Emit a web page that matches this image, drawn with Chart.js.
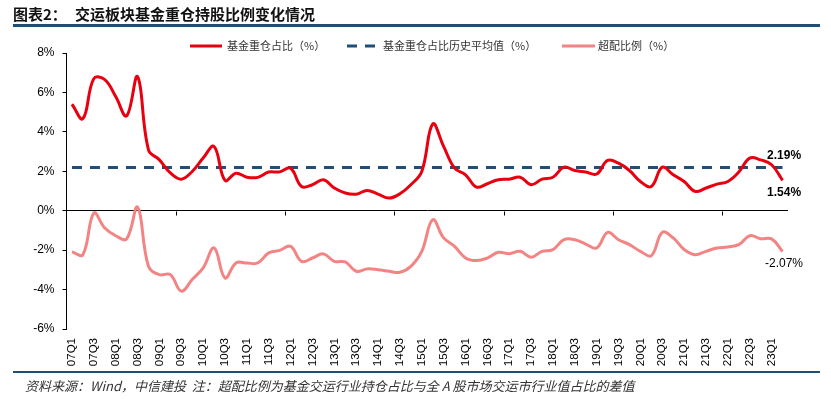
<!DOCTYPE html>
<html><head><meta charset="utf-8">
<script src="https://cdn.jsdelivr.net/npm/chart.js@4"></script>
<style>
html,body{margin:0;padding:0;background:#fff;width:831px;height:399px;overflow:hidden;position:relative;}
#c{position:absolute;left:0;top:0;}
.t{position:absolute;font-family:"Noto Sans CJK SC";font-weight:bold;font-size:15px;line-height:15px;color:#111;top:6px;white-space:nowrap;}
.rule{position:absolute;left:13px;width:807px;background:#1F4E79;}
.foot{position:absolute;left:25px;top:378px;font-family:"Noto Sans CJK SC";font-style:italic;font-size:13px;line-height:16px;color:#333;white-space:nowrap;}
</style></head><body>
<canvas id="c" width="831" height="399"></canvas>
<div class="t" style="left:13px">图表2：</div>
<div class="t" style="left:75px">交运板块基金重仓持股比例变化情况</div>
<div class="rule" style="top:24px;height:3px"></div>
<div class="rule" style="top:371px;height:2px"></div>
<div class="foot">资料来源：Wind，中信建投&nbsp;&nbsp;注：超配比例为基金交运行业持仓占比与全 A 股市场交运市行业值占比的差值</div>
<script>
const categories = [
 '07Q1','07Q2','07Q3','07Q4','08Q1','08Q2','08Q3','08Q4',
 '09Q1','09Q2','09Q3','09Q4','10Q1','10Q2','10Q3','10Q4',
 '11Q1','11Q2','11Q3','11Q4','12Q1','12Q2','12Q3','12Q4',
 '13Q1','13Q2','13Q3','13Q4','14Q1','14Q2','14Q3','14Q4',
 '15Q1','15Q2','15Q3','15Q4','16Q1','16Q2','16Q3','16Q4',
 '17Q1','17Q2','17Q3','17Q4','18Q1','18Q2','18Q3','18Q4',
 '19Q1','19Q2','19Q3','19Q4','20Q1','20Q2','20Q3','20Q4',
 '21Q1','21Q2','21Q3','21Q4','22Q1','22Q2','22Q3','22Q4',
 '23Q1','23Q2'
];
const heavyShare = [
 5.40,4.67,6.70,6.65,5.79,4.81,6.80,3.09,
 2.58,1.92,1.60,1.99,2.67,3.26,1.54,1.90,
 1.70,1.69,1.96,1.97,2.16,1.23,1.32,1.57,
 1.15,0.90,0.84,1.03,0.84,0.64,0.86,1.32,
 1.99,4.40,3.26,2.16,1.82,1.20,1.37,1.57,
 1.60,1.70,1.32,1.60,1.70,2.21,2.04,1.96,
 1.86,2.55,2.41,2.04,1.48,1.23,2.21,1.82,
 1.48,0.98,1.15,1.35,1.48,1.96,2.67,2.58,
 2.33,1.54
];
const historicalAverage = 2.19;
const overweight = [
 -2.09,-2.23,-0.12,-0.88,-1.27,-1.43,0.18,-2.82,
 -3.24,-3.24,-4.08,-3.49,-2.90,-1.89,-3.41,-2.65,
 -2.65,-2.65,-2.14,-2.01,-1.81,-2.57,-2.40,-2.19,
 -2.57,-2.60,-3.07,-2.95,-2.99,-3.07,-3.12,-2.82,
 -2.06,-0.46,-1.38,-1.81,-2.40,-2.53,-2.40,-2.11,
 -2.18,-2.06,-2.36,-2.06,-1.97,-1.47,-1.47,-1.69,
 -1.89,-1.10,-1.47,-1.72,-2.06,-2.28,-1.10,-1.38,
 -1.97,-2.23,-2.06,-1.89,-1.84,-1.72,-1.27,-1.42,
 -1.43,-2.07
];
const yTicks = [-6,-4,-2,0,2,4,6,8];
const seriesNames = ['基金重仓占比（%）','基金重仓占比历史平均值（%）','超配比例（%）'];
const colors = {heavy:'#E8000F', avg:'#1F4E79', over:'#F28484'};

const overlay = {
  id:'overlay',
  afterDatasetsDraw(chart){
    const {ctx, scales:{x,y}} = chart;
    ctx.save();
    ctx.strokeStyle='#000'; ctx.lineWidth=1;
    const y0 = Math.round(y.getPixelForValue(0))+0.5;
    for(let i=10;i<categories.length;i+=10){
      const px = Math.round((x.getPixelForValue(i-1)+x.getPixelForValue(i))/2)+0.5;
      ctx.beginPath(); ctx.moveTo(px,y0); ctx.lineTo(px,y0+4); ctx.stroke();
    }
    const last = categories.length-1;
    const lx = x.getPixelForValue(last)+1.5;
    ctx.fillStyle='#000'; ctx.textAlign='center'; ctx.textBaseline='middle';
    ctx.font='bold 12px "Liberation Sans"';
    ctx.fillText(historicalAverage.toFixed(2)+'%', lx, y.getPixelForValue(historicalAverage)-12);
    ctx.fillText(heavyShare[last].toFixed(2)+'%', lx, y.getPixelForValue(heavyShare[last])+12);
    ctx.font='12px "Liberation Sans"';
    ctx.fillText(overweight[last].toFixed(2)+'%', lx, y.getPixelForValue(overweight[last])+12);
    const ly = 46;
    const items = [
      {x0:190,x1:222,tx:227,color:colors.heavy,dash:[]},
      {x0:347,x1:378,tx:383,color:colors.avg,dash:[10,8]},
      {x0:562,x1:595,tx:598,color:colors.over,dash:[]}
    ];
    ctx.textAlign='left';
    ctx.font='11px "Noto Sans CJK SC"';
    items.forEach((it,k)=>{
      ctx.strokeStyle=it.color; ctx.lineWidth=3; ctx.setLineDash(it.dash);
      ctx.beginPath(); ctx.moveTo(it.x0,ly); ctx.lineTo(it.x1,ly); ctx.stroke();
      ctx.setLineDash([]);
      ctx.fillStyle='#333';
      ctx.fillText(seriesNames[k], it.tx, ly);
    });
    ctx.restore();
  }
};

new Chart(document.getElementById('c'), {
  type:'line',
  data:{labels:categories, datasets:[
    {label:seriesNames[0], data:heavyShare, borderColor:colors.heavy, borderWidth:3, pointRadius:0, tension:0.4, fill:false},
    {label:seriesNames[1], data:categories.map(()=>historicalAverage), borderColor:colors.avg, borderWidth:3, borderDash:[10,8], pointRadius:0, tension:0, fill:false},
    {label:seriesNames[2], data:overweight, borderColor:colors.over, borderWidth:3, pointRadius:0, tension:0.4, fill:false}
  ]},
  options:{
    responsive:false, animation:false, devicePixelRatio:1,
    layout:{padding:{left:0,top:53,right:43,bottom:30}},
    plugins:{legend:{display:false}, tooltip:{enabled:false}},
    scales:{
      x:{type:'category', offset:true, grid:{display:false, drawTicks:false}, border:{display:false},
         ticks:{autoSkip:false, maxRotation:90, minRotation:90, padding:9, color:'#000',
                font:{family:'Liberation Sans', size:11.5},
                callback:(v,i)=> i%2===0 ? categories[i] : ''},
         afterFit:s=>{s.height=40;}},
      y:{min:yTicks[0], max:yTicks[yTicks.length-1],
         afterBuildTicks:s=>{s.ticks = yTicks.map(v=>({value:v}));},
         ticks:{callback:v=>v+'%', color:'#000', font:{family:'Liberation Sans',size:12}, padding:8},
         grid:{color:c=>(c.tick && c.tick.value===0)?'#000':'rgba(0,0,0,0)', lineWidth:1, tickColor:'#000', tickLength:4},
         border:{display:true,color:'#000',width:1},
         afterFit:s=>{s.width=66.5;}}
    }
  },
  plugins:[overlay]
});
</script>
</body></html>
